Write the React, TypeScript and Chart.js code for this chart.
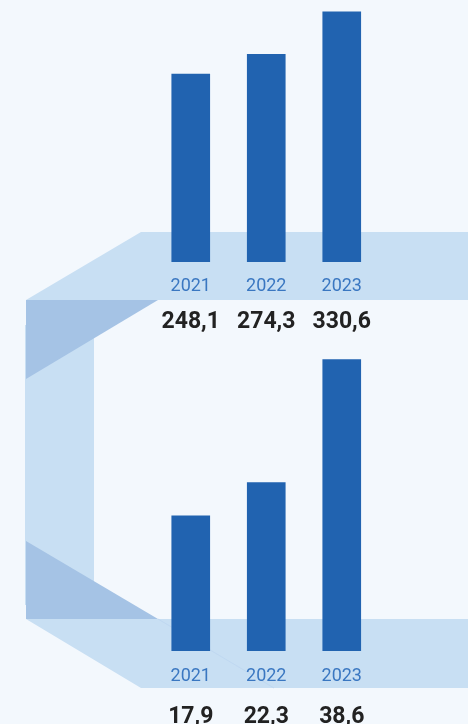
import React, { useEffect, useRef } from "react";
import { Chart, registerables } from "chart.js";

Chart.register(...registerables);

const years = ["2021", "2022", "2023"];
const topValues = [248.1, 274.3, 330.6];
const bottomValues = [17.9, 22.3, 38.6];
const topLabels = ["248,1", "274,3", "330,6"];
const bottomLabels = ["17,9", "22,3", "38,6"];

const BG = "#f3f8fd";
const BAND = "#c8dff3";
const BAND_DARK = "#a5c3e5";
const BAR = "#2163b0";
const YEAR_COLOR = "#3a77c1";
const VALUE_COLOR = "#222222";

const labelPlugin = {
  id: "yearValueLabels",
  afterDraw(chart: any, _args: any, opts: any) {
    const ctx = chart.ctx;
    const x = chart.scales.x;
    const bottom = chart.chartArea.bottom;
    ctx.save();
    ctx.textAlign = "center";
    ctx.textBaseline = "alphabetic";
    const labels: string[] = chart.data.labels;
    labels.forEach((lab: string, i: number) => {
      const px = x.getPixelForValue(i);
      ctx.fillStyle = YEAR_COLOR;
      ctx.font = "18px Roboto";
      ctx.fillText(lab, px, bottom + opts.yearBase);
      ctx.fillStyle = VALUE_COLOR;
      ctx.font = "bold 23px Roboto";
      ctx.fillText(opts.valueLabels[i], px, bottom + opts.valueBase);
    });
    ctx.restore();
  },
};

function BarChart(props: {
  values: number[];
  valueLabels: string[];
  max: number;
  height: number;
  padBottom: number;
  yearBase: number;
  valueBase: number;
  top: number;
}) {
  const ref = useRef<HTMLCanvasElement | null>(null);
  useEffect(() => {
    if (!ref.current) return;
    const chart = new Chart(ref.current, {
      type: "bar",
      data: {
        labels: years,
        datasets: [
          {
            data: props.values,
            backgroundColor: BAR,
            barThickness: 38,
            borderWidth: 0,
          },
        ],
      },
      options: {
        responsive: false,
        animation: false,
        layout: {
          padding: { left: 153, right: 88.5, top: 0, bottom: props.padBottom },
        },
        scales: {
          x: { display: false },
          y: { display: false, min: 0, max: props.max },
        },
        plugins: {
          legend: { display: false },
          tooltip: { enabled: false },
          yearValueLabels: {
            yearBase: props.yearBase,
            valueBase: props.valueBase,
            valueLabels: props.valueLabels,
          },
        } as any,
      },
      plugins: [labelPlugin],
    });
    return () => chart.destroy();
  }, []);
  return (
    <canvas
      ref={ref}
      width={468}
      height={props.height}
      style={{ position: "absolute", left: 0, top: props.top, width: 468, height: props.height }}
    />
  );
}

export default function App() {
  return (
    <div
      style={{
        position: "fixed",
        left: 0,
        top: 0,
        width: 468,
        height: 724,
        background: BG,
        overflow: "hidden",
      }}
    >
      <svg width={468} height={724} style={{ position: "absolute", left: 0, top: 0 }}>
        <polygon points="141,232 468,232 468,300 26,300" fill={BAND} />
        <rect x={25} y={325} width={69} height={280} fill={BAND} />
        <polygon points="26,300 158,300 26,379" fill={BAND_DARK} />
        <polygon points="26,541 158,619 26,619" fill={BAND_DARK} />
        <polygon points="26,619 468,619 468,688 141,688" fill={BAND} />
        <line x1={158} y1={619} x2={274} y2={688} stroke="#bcd6f0" strokeWidth={0.8} />
      </svg>
      <BarChart
        values={topValues}
        valueLabels={topLabels}
        max={346.1}
        height={340}
        padBottom={78}
        yearBase={29}
        valueBase={65.5}
        top={0}
      />
      <BarChart
        values={bottomValues}
        valueLabels={bottomLabels}
        max={41.2}
        height={384}
        padBottom={73}
        yearBase={30}
        valueBase={71.5}
        top={340}
      />
    </div>
  );
}
